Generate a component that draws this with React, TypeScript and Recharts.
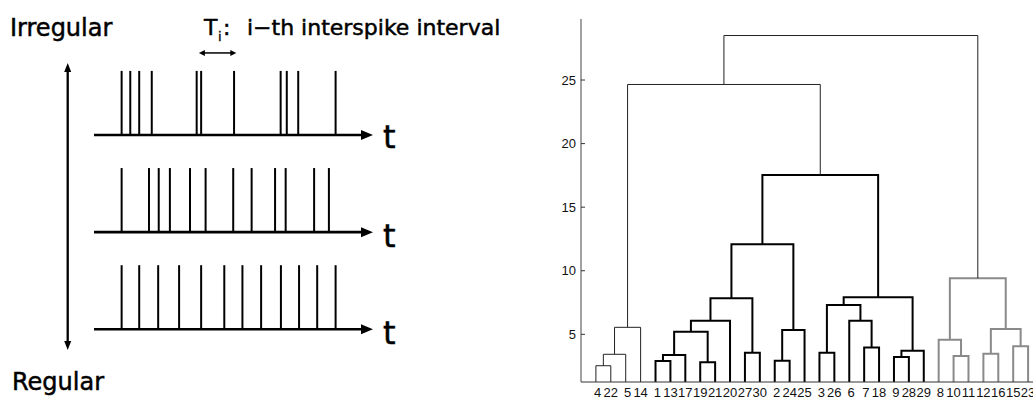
import React from "react";
import { LineChart, Line, XAxis, YAxis, ReferenceLine } from "recharts";

// ---- left panel: three spike trains (time in arbitrary units, 0..100) ----
const irregularSpikes = [9.9, 13.0, 16.2, 20.7, 36.8, 38.4, 50.2, 66.9, 69.1, 73.2, 86.6];
const mediumSpikes = [9.9, 19.7, 23.2, 27.2, 34.4, 40.0, 49.9, 56.5, 64.9, 68.7, 78.9, 84.2];
const regularSpikes = [9.9, 16.2, 23.0, 30.5, 38.4, 46.7, 53.2, 59.9, 67.0, 73.5, 80.0, 86.6];
const trains = [irregularSpikes, mediumSpikes, regularSpikes];
const trainRows = [2, 1, 0];
const spikeHeight = 0.66;
const timeEnd = 100;

// ---- right panel: dendrogram ----
const leafOrder = [4, 22, 5, 14, 1, 13, 17, 19, 21, 20, 27, 30, 2, 24, 25, 3, 26, 6, 7, 18, 9, 28, 29, 8, 10, 11, 12, 16, 15, 23];
// merge k creates node 31 + k
const mergeLeft = [4, 31, 32, 1, 34, 19, 35, 37, 27, 38, 2, 41, 40, 3, 7, 6, 44, 9, 48, 47, 43, 10, 8, 12, 15, 54, 53, 33, 58];
const mergeRight = [22, 5, 14, 13, 17, 21, 36, 20, 30, 39, 24, 25, 42, 26, 18, 45, 46, 28, 29, 49, 50, 11, 52, 16, 23, 55, 56, 51, 57];
const mergeHeight = [2.53, 3.43, 5.55, 2.9, 3.37, 2.8, 5.21, 6.07, 3.55, 7.83, 2.92, 5.34, 12.09, 3.55, 3.97, 6.07, 7.31, 3.21, 3.71, 7.91, 17.54, 3.29, 4.58, 3.47, 4.06, 5.42, 9.41, 24.65, 28.5];
const mergeGroup = ["a", "a", "a", "b", "b", "b", "b", "b", "b", "b", "b", "b", "b", "b", "b", "b", "b", "b", "b", "b", "b", "c", "c", "c", "c", "c", "c", "a", "a"];
const yTicks = [5, 10, 15, 20, 25];
const yMin = 1.25;
const yMax = 29.8;

const groupStyle: Record<string, { stroke: string; width: number }> = {
  a: { stroke: "#222", width: 1 },
  b: { stroke: "#000", width: 2 },
  c: { stroke: "#8a8a8a", width: 2 },
};

function buildLinks() {
  const pos: Record<number, { x: number; h: number }> = {};
  leafOrder.forEach((leaf, i) => (pos[leaf] = { x: i + 1, h: yMin }));
  return mergeLeft.map((l, k) => {
    const r = mergeRight[k];
    const h = mergeHeight[k];
    const L = pos[l];
    const R = pos[r];
    pos[31 + k] = { x: (L.x + R.x) / 2, h };
    return {
      group: mergeGroup[k],
      points: [
        { x: L.x, y: L.h },
        { x: L.x, y: h },
        { x: R.x, y: h },
        { x: R.x, y: R.h },
      ],
    };
  });
}
const links = buildLinks();

// leaf labels are padded to two characters like the original figure
const leafLabel = (v: number) => {
  const s = String(leafOrder[v - 1]);
  return s.length < 2 ? "\u00A0" + s : s;
};

const arrowShape =
  (headStart: boolean, headEnd: boolean, len: number, half: number, sw: number) =>
  (props: any) => {
    const { x1, y1, x2, y2 } = props;
    const d = Math.hypot(x2 - x1, y2 - y1) || 1;
    const ux = (x2 - x1) / d;
    const uy = (y2 - y1) / d;
    const head = (tx: number, ty: number, dir: number) => {
      const bx = tx - dir * ux * len;
      const by = ty - dir * uy * len;
      return `${tx},${ty} ${bx - uy * half},${by + ux * half} ${bx + uy * half},${by - ux * half}`;
    };
    const sx = headStart ? x1 + ux * len * 0.7 : x1;
    const sy = headStart ? y1 + uy * len * 0.7 : y1;
    const ex = headEnd ? x2 - ux * len * 0.7 : x2;
    const ey = headEnd ? y2 - uy * len * 0.7 : y2;
    return (
      <g>
        <line x1={sx} y1={sy} x2={ex} y2={ey} stroke="#000" strokeWidth={sw} />
        {headStart && <polygon points={head(x1, y1, -1)} fill="#000" />}
        {headEnd && <polygon points={head(x2, y2, 1)} fill="#000" />}
      </g>
    );
  };

const YTick = (props: any) => {
  const { x, y, payload } = props;
  return (
    <g>
      <line x1={x + 5} x2={x + 9} y1={y} y2={y} stroke="#333" />
      <text x={x} y={y} dy="0.35em" textAnchor="end" fontSize={13} fill="#111" fontFamily="Liberation Sans, Arial, sans-serif">
        {payload.value}
      </text>
    </g>
  );
};

export default function App() {
  const font = "DejaVu Sans, sans-serif";
  return (
    <div style={{ position: "absolute", left: 0, top: 0, width: 1033, height: 401, overflow: "hidden", background: "#fff" }}>
      <div style={{ position: "absolute", left: 0, top: 0 }}>
        <LineChart width={520} height={401} margin={{ top: 0, right: 0, bottom: 0, left: 0 }}>
          <XAxis type="number" dataKey="t" domain={[-33.7, 152.7]} hide allowDataOverflow />
          <YAxis type="number" domain={[-0.738, 3.39]} hide allowDataOverflow />
          {trainRows.map((row, i) => (
            <ReferenceLine
              key={"base" + i}
              segment={[{ x: 0, y: row }, { x: timeEnd, y: row }]}
              shape={arrowShape(false, true, 12, 5, 2.6)}
            />
          ))}
          {trains.map((spikes, i) =>
            spikes.map((t, j) => (
              <ReferenceLine
                key={`s${i}-${j}`}
                segment={[{ x: t, y: trainRows[i] }, { x: t, y: trainRows[i] + spikeHeight }]}
                stroke="#000"
                strokeWidth={2}
              />
            ))
          )}
          <ReferenceLine segment={[{ x: -9.43, y: 2.741 }, { x: -9.43, y: -0.213 }]} shape={arrowShape(true, true, 9, 3.5, 2.3)} />
          <ReferenceLine
            segment={[{ x: irregularSpikes[5] - 0.8, y: 2.845 }, { x: irregularSpikes[6] + 0.8, y: 2.845 }]}
            shape={arrowShape(true, true, 6, 3, 1.5)}
          />
        </LineChart>
      </div>

      <svg
        width={1033}
        height={401}
        style={{ position: "absolute", left: 0, top: 0, pointerEvents: "none" }}
        fontFamily={font}
        stroke="#000"
        strokeWidth={0.5}
      >
        <text x={10} y={36} fontSize={24}>Irregular</text>
        <text x={12} y={390} fontSize={24}>Regular</text>
        <text x={204} y={35} fontSize={22}>T</text>
        <text x={218} y={41} fontSize={13} strokeWidth={0.3}>i</text>
        <text x={223} y={35} fontSize={22}>:</text>
        <text x={247} y={35} fontSize={22}>i−th interspike interval</text>
        <text x={383} y={148} fontSize={32}>t</text>
        <text x={383} y={247} fontSize={32}>t</text>
        <text x={383} y={344} fontSize={32}>t</text>
      </svg>

      <div style={{ position: "absolute", left: 530, top: 0 }}>
        <LineChart width={513} height={401} margin={{ top: 19, right: 0, bottom: 0, left: 0 }}>
          <XAxis
            type="number"
            dataKey="x"
            domain={[0, leafOrder.length + 1]}
            ticks={leafOrder.map((_, i) => i + 1)}
            tickFormatter={leafLabel}
            interval={0}
            tickLine={false}
            tickSize={0}
            tickMargin={6}
            height={19}
            allowDataOverflow
            stroke="#333"
            tick={{ fontSize: 13, fill: "#111", fontFamily: "Liberation Sans, Arial, sans-serif" }}
          />
          <YAxis
            type="number"
            domain={[yMin, yMax]}
            ticks={yTicks}
            allowDataOverflow
            width={51}
            tickLine={false}
            tickSize={0}
            tickMargin={5}
            stroke="#444"
            tick={<YTick />}
          />
          {links.map((lk, i) => (
            <Line
              key={"link" + i}
              data={lk.points}
              dataKey="y"
              type="linear"
              stroke={groupStyle[lk.group].stroke}
              strokeWidth={groupStyle[lk.group].width}
              dot={false}
              activeDot={false}
              isAnimationActive={false}
            />
          ))}
        </LineChart>
      </div>
    </div>
  );
}
